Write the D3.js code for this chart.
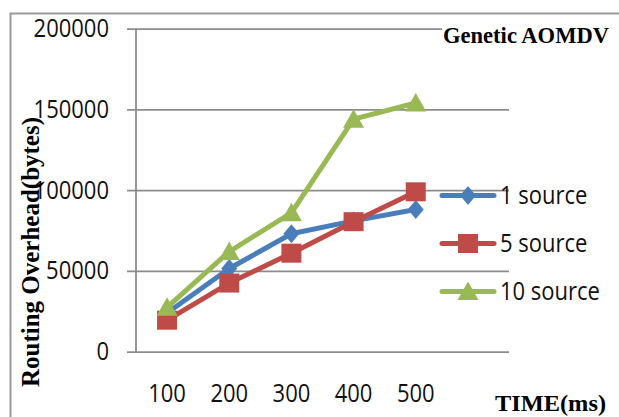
<!DOCTYPE html>
<html>
<head>
<meta charset="utf-8">
<script src="https://cdn.jsdelivr.net/npm/d3@7"></script>
<style>
  html, body { margin: 0; padding: 0; background: #fff; }
  svg { display: block; }
</style>
</head>
<body>
<svg id="chart" width="619" height="417"></svg>
<script>
// Routing overhead (bytes) over time for Genetic AOMDV
const categories = ["100", "200", "300", "400", "500"];
const oneSource = [24000, 51500, 73000, 81000, 88000];
const fiveSource = [19500, 42500, 61000, 80500, 99000];
const tenSource = [27500, 62000, 86000, 144000, 154000];
const yTicks = [0, 50000, 100000, 150000, 200000];
const seriesNames = ["1 source", "5 source", "10 source"];

const series = [
  { name: seriesNames[0], values: oneSource, color: "#4A7EBB", shape: "diamond" },
  { name: seriesNames[1], values: fiveSource, color: "#BE4B48", shape: "square" },
  { name: seriesNames[2], values: tenSource, color: "#98B954", shape: "triangle" }
];

const svg = d3.select("#chart");
const plot = { left: 136, right: 509, top: 28.7, bottom: 351.7 };
const gridColor = "#8c8c8c";
const sans = "'Open Sans', sans-serif";
const serif = "'Liberation Serif', 'Times New Roman', serif";
const stretch = "scale(1,1.13)";

// outer chart frame
svg.append("rect")
  .attr("x", 10.5).attr("y", 13.5)
  .attr("width", 700).attr("height", 500)
  .attr("fill", "none").attr("stroke", "#9a9a9a").attr("stroke-width", 2);

// six category slots, data occupies the first five
const step = (plot.right - plot.left) / 6;
const x = d3.scaleBand().domain(categories).range([plot.left, plot.left + step * 5]);
const cx = c => x(c) + x.bandwidth() / 2;
const y = d3.scaleLinear().domain([0, 200000]).range([plot.bottom, plot.top]);

// horizontal gridlines with outward tick stubs
const yAxis = svg.append("g")
  .attr("transform", `translate(${plot.right},0)`)
  .call(d3.axisLeft(y).tickValues(yTicks).tickSizeInner(plot.right - 127).tickSizeOuter(0).tickPadding(18).tickFormat(d3.format("d")));
yAxis.select(".domain").remove();
yAxis.selectAll(".tick line").attr("stroke", gridColor).attr("stroke-width", 1.8);
yAxis.selectAll(".tick text")
  .attr("font-family", sans).attr("font-size", 22).attr("fill", "#111")
  .attr("transform", stretch);

// vertical axis line
svg.append("line")
  .attr("x1", plot.left).attr("x2", plot.left)
  .attr("y1", y(200000)).attr("y2", y(0))
  .attr("stroke", gridColor).attr("stroke-width", 1.8);

// category labels
const xAxis = svg.append("g")
  .attr("transform", `translate(0,${y(0)})`)
  .call(d3.axisBottom(x).tickSize(0).tickPadding(0));
xAxis.select(".domain").remove();
xAxis.selectAll(".tick text")
  .attr("font-family", sans).attr("font-size", 22).attr("fill", "#111")
  .attr("dy", null).attr("y", 0)
  .attr("transform", "translate(0,50) " + stretch);

// marker shapes
function marker(sel, shape, color) {
  if (shape === "diamond") {
    sel.append("path").attr("d", "M0,-9.5 L8,0 L0,9.5 L-8,0 Z").attr("fill", color);
  } else if (shape === "square") {
    sel.append("rect").attr("x", -10).attr("y", -9.5).attr("width", 20).attr("height", 19).attr("fill", color);
  } else {
    sel.append("path").attr("d", "M0,-10 L10.5,8.5 L-10.5,8.5 Z").attr("fill", color);
  }
}

const line = d3.line().x((d, i) => cx(categories[i])).y(d => y(d));

series.forEach(s => {
  svg.append("path")
    .datum(s.values)
    .attr("d", line)
    .attr("fill", "none").attr("stroke", s.color)
    .attr("stroke-width", 5).attr("stroke-linejoin", "round").attr("stroke-linecap", "round");
  s.values.forEach((v, i) => {
    const g = svg.append("g").attr("transform", `translate(${cx(categories[i])},${y(v)})`);
    marker(g, s.shape, s.color);
  });
});

// legend
const legendY = [195.5, 243.5, 291.5];
series.forEach((s, i) => {
  const g = svg.append("g").attr("transform", `translate(440,${legendY[i]})`);
  g.append("line").attr("x1", 2).attr("x2", 54).attr("y1", 0).attr("y2", 0)
    .attr("stroke", s.color).attr("stroke-width", 5).attr("stroke-linecap", "round");
  const m = g.append("g").attr("transform", "translate(28,0)");
  marker(m, s.shape, s.color);
  g.append("text")
    .attr("x", 60).attr("y", 0)
    .attr("transform", "translate(60,0) " + stretch + " translate(-60,0)")
    .attr("dy", "0.36em")
    .attr("font-family", sans).attr("font-size", 22).attr("fill", "#111")
    .text(s.name);
});

// chart title with white backing
svg.append("rect").attr("x", 442).attr("y", 19).attr("width", 180).attr("height", 28).attr("fill", "#fff");
svg.append("text")
  .attr("x", 443).attr("y", 43)
  .attr("font-family", serif).attr("font-weight", "bold").attr("font-size", 23)
  .attr("textLength", 166).attr("lengthAdjust", "spacingAndGlyphs")
  .attr("fill", "#000")
  .text("Genetic AOMDV");

// axis titles
svg.append("text")
  .attr("transform", "translate(39,252) rotate(-90)")
  .attr("text-anchor", "middle")
  .attr("font-family", serif).attr("font-weight", "bold").attr("font-size", 25)
  .attr("textLength", 270).attr("lengthAdjust", "spacingAndGlyphs")
  .attr("fill", "#000")
  .text("Routing Overhead(bytes)");

svg.append("text")
  .attr("x", 495).attr("y", 411)
  .attr("font-family", serif).attr("font-weight", "bold").attr("font-size", 24)
  .attr("textLength", 111).attr("lengthAdjust", "spacingAndGlyphs")
  .attr("fill", "#000")
  .text("TIME(ms)");
</script>
</body>
</html>
